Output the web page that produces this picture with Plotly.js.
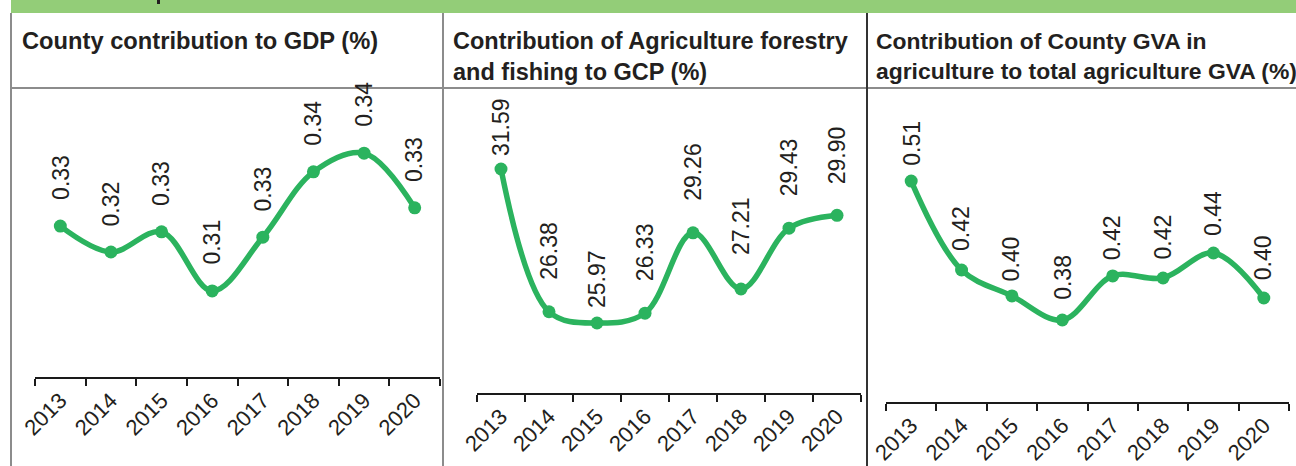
<!DOCTYPE html>
<html><head><meta charset="utf-8">
<script src="https://cdn.plot.ly/plotly-3.0.1.min.js"></script>
<style>html,body{margin:0;padding:0;background:#fff;overflow:hidden;} #chart{width:1296px;height:466px;}</style>
</head><body><div id="chart"></div>
<script>
// ---- data ----
const years = ['2013','2014','2015','2016','2017','2018','2019','2020'];
const gdpShare   = [0.3279, 0.3225, 0.3267, 0.3144, 0.3256, 0.3392, 0.3431, 0.3317];
const gdpLabels  = ['0.33','0.32','0.33','0.31','0.33','0.34','0.34','0.33'];
const agriShare  = [31.59, 26.38, 25.97, 26.33, 29.26, 27.21, 29.43, 29.90];
const agriLabels = ['31.59','26.38','25.97','26.33','29.26','27.21','29.43','29.90'];
const gvaShare   = [0.51, 0.4268, 0.4025, 0.38, 0.4212, 0.4193, 0.4427, 0.4006];
const gvaLabels  = ['0.51','0.42','0.40','0.38','0.42','0.42','0.44','0.40'];
const panelTitles = [
  'County contribution to GDP (%)',
  'Contribution of Agriculture forestry<br>and fishing to GCP (%)',
  'Contribution of County GVA in<br>agriculture to total agriculture GVA (%)'
];

// ---- layout / style ----
const W = 1296, H = 466;
const GREEN = '#2bb35e', INK = '#231f20';
const FONT = 'Liberation Sans, Arial, Helvetica, sans-serif';
const px = v => v / W, py = v => 1 - v / H;

const panels = [
  {vals: gdpShare,  labels: gdpLabels,  xl: 35,  xr: 440,  yb: 377, yt: 100, range: [0.29646, 0.35417], gap: [24,24,24,24,24,24,24,24], tx: 20,  ts: 23.7},
  {vals: agriShare, labels: agriLabels, xl: 477, xr: 861,  yb: 393, yt: 100, range: [23.415, 34.109],   gap: [11,30,13,30,30,32,30,29], tx: 451, ts: 23.5},
  {vals: gvaShare,  labels: gvaLabels,  xl: 886, xr: 1289, yb: 402, yt: 100, range: [0.3033, 0.5858],   gap: [13,17,13,18,14,16,15,16], tx: 874, ts: 22.9}
];

const data = [];
const layout = {
  width: W, height: H,
  margin: {l: 0, r: 0, t: 0, b: 0},
  paper_bgcolor: '#ffffff', plot_bgcolor: 'rgba(0,0,0,0)',
  showlegend: false,
  annotations: [], shapes: []
};

panels.forEach((p, k) => {
  const n = k === 0 ? '' : String(k + 1);
  data.push({
    type: 'scatter', mode: 'lines+markers',
    x: years, y: p.vals,
    xaxis: 'x' + n, yaxis: 'y' + n,
    line: {shape: 'spline', smoothing: 1, color: GREEN, width: 5.5},
    marker: {size: 13, color: GREEN},
    cliponaxis: false, hoverinfo: 'skip'
  });
  layout['xaxis' + n] = {
    domain: [px(p.xl), px(p.xr)], anchor: 'y' + n,
    type: 'category', range: [-0.5, 7.5],
    tickson: 'boundaries', ticks: 'outside', ticklen: 7, tickwidth: 2, tickcolor: '#1a1a1a',
    showline: true, linewidth: 2, linecolor: '#1a1a1a',
    showgrid: false, zeroline: false, tickangle: -45,
    tickfont: {family: FONT, size: 22, color: INK}, fixedrange: true
  };
  layout['yaxis' + n] = {
    domain: [py(p.yb), py(p.yt)], anchor: 'x' + n,
    range: p.range, visible: false, fixedrange: true
  };
  p.vals.forEach((v, i) => {
    layout.annotations.push({
      xref: 'x' + n, yref: 'y' + n, x: i, y: v,
      text: p.labels[i], textangle: -90, showarrow: false,
      xanchor: 'center', yanchor: 'bottom', yshift: p.gap[i],
      font: {family: FONT, size: 23, color: INK}
    });
  });
  layout.annotations.push({
    xref: 'paper', yref: 'paper', x: px(p.tx), y: py(26),
    xanchor: 'left', yanchor: 'top', align: 'left',
    text: panelTitles[k], showarrow: false,
    font: {family: FONT, size: p.ts, color: INK, weight: 'bold'}
  });
});

// frame: green band, header rule, column dividers
layout.shapes.push(
  {type: 'rect', xref: 'paper', yref: 'paper', x0: px(11), x1: 1, y0: py(13), y1: 1, fillcolor: '#93cd78', line: {width: 0}, layer: 'below'},
  {type: 'rect', xref: 'paper', yref: 'paper', x0: px(157), x1: px(160), y0: py(4), y1: 1, fillcolor: INK, line: {width: 0}},
  {type: 'line', xref: 'paper', yref: 'paper', x0: px(11), x1: 1, y0: py(88), y1: py(88), line: {color: '#8c8c8c', width: 2}},
  {type: 'line', xref: 'paper', yref: 'paper', x0: px(11), x1: px(11), y0: py(13), y1: 0, line: {color: '#8c8c8c', width: 2}},
  {type: 'line', xref: 'paper', yref: 'paper', x0: px(443), x1: px(443), y0: py(13), y1: 0, line: {color: '#8c8c8c', width: 2}},
  {type: 'line', xref: 'paper', yref: 'paper', x0: px(867), x1: px(867), y0: py(13), y1: 0, line: {color: '#333333', width: 2}}
);

Plotly.newPlot('chart', data, layout, {displayModeBar: false, staticPlot: true});
</script>
</body></html>
